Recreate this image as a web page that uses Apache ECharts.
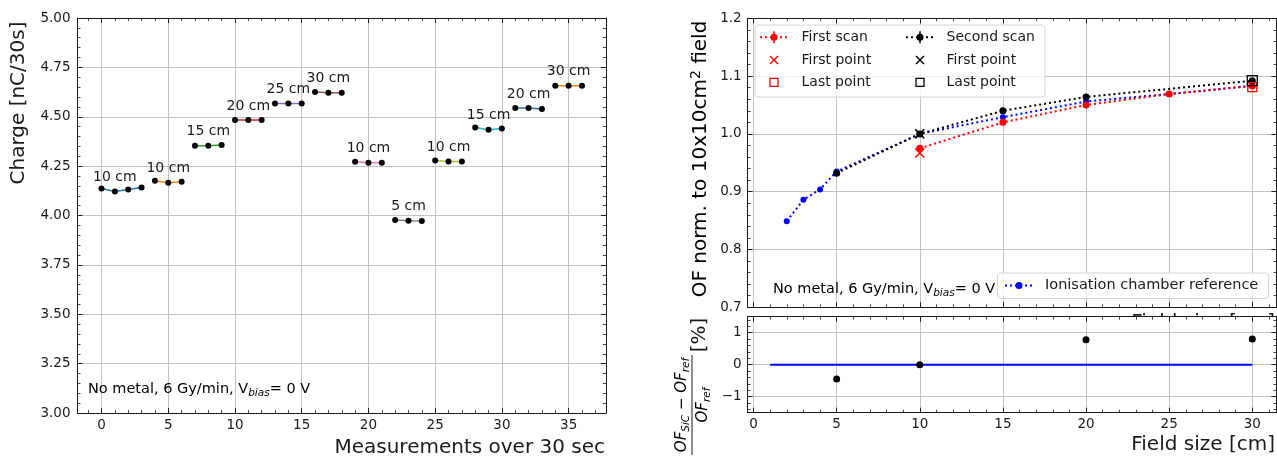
<!DOCTYPE html>
<html>
<head>
<meta charset="utf-8">
<script src="https://cdn.jsdelivr.net/npm/echarts@6/dist/echarts.min.js"></script>
<style>
  html, body { margin: 0; padding: 0; background: #fff; }
  #chart { width: 1277px; height: 458px; }
</style>
</head>
<body>
<div id="chart"></div>
<script>
// ---------- Left panel: charge per 30 s measurement, one run per field size ----------
const fieldLabels = ['10 cm', '10 cm', '15 cm', '20 cm', '25 cm', '30 cm',
                     '10 cm', '5 cm', '10 cm', '15 cm', '20 cm', '30 cm'];
const chargeByField = [
  [4.137, 4.121, 4.132, 4.142],
  [4.176, 4.166, 4.171],
  [4.353, 4.353, 4.357],
  [4.484, 4.484, 4.484],
  [4.567, 4.567, 4.567],
  [4.625, 4.622, 4.621],
  [4.272, 4.267, 4.267],
  [3.977, 3.974, 3.972],
  [4.279, 4.274, 4.274],
  [4.445, 4.434, 4.441],
  [4.544, 4.544, 4.539],
  [4.657, 4.657, 4.657]
];
const runColors = ['#1f77b4', '#ff7f0e', '#2ca02c', '#d62728', '#9467bd', '#8c564b',
                   '#e377c2', '#7f7f7f', '#bcbd22', '#17becf', '#1f77b4', '#ff7f0e'];
const measurementTicks = [0, 5, 10, 15, 20, 25, 30, 35];
const chargeTicks = [3.00, 3.25, 3.50, 3.75, 4.00, 4.25, 4.50, 4.75, 5.00];

// ---------- Right panel: output factors vs field size ----------
const icField = [2, 3, 4, 5, 10, 15, 20, 25, 30];
const icOF    = [0.849, 0.886, 0.904, 0.935, 1.000, 1.029, 1.056, 1.069, 1.083];
const scan1Field = [10, 15, 20, 25, 30];
const scan1OF    = [0.975, 1.020, 1.050, 1.069, 1.083];
const scan1FirstPoint = [10, 0.967];
const scan1LastPoint  = [30, 1.081];
const scan2Field = [5, 10, 15, 20, 30];
const scan2OF    = [0.932, 1.000, 1.040, 1.064, 1.092];
const scan2FirstPoint = [10, 1.000];
const scan2LastPoint  = [30, 1.092];
const devField   = [5, 10, 20, 30];
const devPercent = [-0.45, 0.00, 0.78, 0.80];
const refLineField = [1, 30];
const fieldTicks = [0, 5, 10, 15, 20, 25, 30];
const ofTicks    = [0.7, 0.8, 0.9, 1.0, 1.1, 1.2];
const devTicks   = [-1, 0, 1];

// ---------- styling helpers ----------
const FONT = 'DejaVu Sans';
const INK = '#1a1a1a';
const GRIDLINE = '#c2c2c2';

function minorValues(min, max, step, majors) {
  const out = [];
  const k0 = Math.ceil(min / step - 1e-9), k1 = Math.floor(max / step + 1e-9);
  for (let k = k0; k <= k1; k++) {
    const v = +(k * step).toFixed(6);
    if (!majors.some(m => Math.abs(m - v) < 1e-9)) out.push(v);
  }
  return out;
}

// Adds a full box frame along one dimension (both sides, inward major+minor ticks).
// Returns the index of the primary axis that carries the data.
function addFrame(list, dim, grid, min, max, majors, minorStep, opts) {
  const sides = dim === 'x' ? ['bottom', 'top'] : ['left', 'right'];
  const minors = minorValues(min, max, minorStep, majors);
  const first = list.length;
  sides.forEach((pos, s) => {
    const primary = s === 0;
    list.push({
      type: 'value', gridIndex: grid, position: pos, min: min, max: max,
      axisLine: { show: true, onZero: false, lineStyle: { color: INK, width: 1 } },
      axisTick: { show: true, inside: true, length: 5, customValues: majors,
                  lineStyle: { color: INK, width: 1 } },
      axisLabel: (primary && opts.labels) ? {
        show: true, customValues: majors, formatter: opts.fmt, margin: opts.margin,
        color: '#1a1a1a', fontSize: 13.5, fontFamily: FONT
      } : { show: false },
      splitLine: primary ? { show: true, lineStyle: { color: GRIDLINE, width: 1 } } : { show: false }
    });
    list.push({
      type: 'value', gridIndex: grid, position: pos, min: min, max: max,
      axisLine: { show: false, onZero: false },
      axisTick: { show: true, inside: true, length: 3, customValues: minors,
                  lineStyle: { color: INK, width: 0.8 } },
      axisLabel: { show: false },
      splitLine: { show: false }
    });
  });
  return first;
}

const minus = v => (v < 0 ? '\u2212' + Math.abs(v) : String(v));

const xAxes = [], yAxes = [];
const L = {
  x: addFrame(xAxes, 'x', 0, -1.8, 37.8, measurementTicks, 1, { labels: true, fmt: v => String(v), margin: 5 }),
  y: addFrame(yAxes, 'y', 0, 3, 5, chargeTicks, 0.05, { labels: true, fmt: v => v.toFixed(2), margin: 7 })
};
const T = {
  x: addFrame(xAxes, 'x', 1, -0.35, 31.45, fieldTicks, 1, { labels: false }),
  y: addFrame(yAxes, 'y', 1, 0.7, 1.2, ofTicks, 0.02, { labels: true, fmt: v => v.toFixed(1), margin: 6 })
};
const B = {
  x: addFrame(xAxes, 'x', 2, -0.35, 31.45, fieldTicks, 1, { labels: true, fmt: v => String(v), margin: 5 }),
  y: addFrame(yAxes, 'y', 2, -1.5, 1.5, devTicks, 0.2, { labels: true, fmt: minus, margin: 6 })
};

// ---------- series ----------
const series = [];

// left: one line per run, labelled with its field size
let m = 0;
chargeByField.forEach((vals, i) => {
  series.push({
    type: 'line', xAxisIndex: L.x, yAxisIndex: L.y,
    symbol: 'circle', symbolSize: 6, showSymbol: true,
    itemStyle: { color: '#000' },
    lineStyle: { color: runColors[i], width: 1.5 },
    label: { position: 'top', distance: 4, color: '#1a1a1a', fontSize: 14, fontFamily: FONT },
    data: vals.map((v, j) => ({
      value: [m + j, v],
      label: j === 1 ? { show: true, formatter: fieldLabels[i] } : { show: false }
    })),
    z: 3
  });
  m += vals.length;
});

const dotted = [2, 3];
const zip = (xs, ys) => xs.map((x, i) => [x, ys[i]]);
const crossPath = 'path://M0,0L10,10M10,0L0,10';

series.push(
  {
    type: 'line', name: 'Ionisation chamber reference', xAxisIndex: T.x, yAxisIndex: T.y,
    symbol: 'circle', symbolSize: 6, itemStyle: { color: '#0000ff' },
    lineStyle: { color: '#0000ff', width: 2, type: dotted }, data: zip(icField, icOF), z: 3
  },
  {
    type: 'line', name: 'First scan', xAxisIndex: T.x, yAxisIndex: T.y,
    symbol: 'circle', symbolSize: 7, itemStyle: { color: '#ff0000' },
    lineStyle: { color: '#ff0000', width: 2, type: dotted }, data: zip(scan1Field, scan1OF), z: 4
  },
  {
    type: 'line', name: 'Second scan', xAxisIndex: T.x, yAxisIndex: T.y,
    symbol: 'circle', symbolSize: 7, itemStyle: { color: '#000000' },
    lineStyle: { color: '#000000', width: 2, type: dotted }, data: zip(scan2Field, scan2OF), z: 4
  },
  {
    type: 'scatter', xAxisIndex: T.x, yAxisIndex: T.y, symbol: crossPath, symbolSize: 9,
    itemStyle: { color: 'none', borderColor: '#ff0000', borderWidth: 1.5, opacity: 1 }, data: [scan1FirstPoint], z: 5
  },
  {
    type: 'scatter', xAxisIndex: T.x, yAxisIndex: T.y, symbol: 'rect', symbolSize: 9,
    itemStyle: { color: 'none', borderColor: '#ff0000', borderWidth: 1.3, opacity: 1 }, data: [scan1LastPoint], z: 5
  },
  {
    type: 'scatter', xAxisIndex: T.x, yAxisIndex: T.y, symbol: crossPath, symbolSize: 9,
    itemStyle: { color: 'none', borderColor: '#000000', borderWidth: 1.5, opacity: 1 }, data: [scan2FirstPoint], z: 5
  },
  {
    type: 'scatter', xAxisIndex: T.x, yAxisIndex: T.y, symbol: 'rect', symbolSize: 10,
    itemStyle: { color: 'none', borderColor: '#000000', borderWidth: 1.3, opacity: 1 }, data: [scan2LastPoint], z: 5
  },
  {
    type: 'line', xAxisIndex: B.x, yAxisIndex: B.y, symbol: 'none',
    lineStyle: { color: '#0000ff', width: 2 }, data: refLineField.map(x => [x, 0]), z: 3
  },
  {
    type: 'scatter', xAxisIndex: B.x, yAxisIndex: B.y, symbol: 'circle', symbolSize: 7,
    itemStyle: { color: '#000000', opacity: 1 }, data: zip(devField, devPercent), z: 4
  }
);

// ---------- text, legends and axis titles ----------
const txt = (text, x, y, extra) => ({
  type: 'text', x: x, y: y, z: 20,
  style: Object.assign({ text: text, fontSize: 14, fontFamily: FONT, fill: '#1a1a1a',
                         align: 'left', verticalAlign: 'middle' }, extra || {})
});

const biasRich = {
  n: { fontSize: 14.5, fontFamily: FONT, color: '#1a1a1a' },
  s: { fontSize: 10.5, fontFamily: FONT, fontStyle: 'italic', color: '#1a1a1a', padding: [8, 0, 0, 0] }
};
const biasText = '{n|No metal, 6 Gy/min, V}{s|bias}{n|= 0 V}';

function legendRow(cx, cy, color, kind) {
  const els = [];
  if (kind === 'line') {
    els.push({ type: 'line', z: 21, shape: { x1: cx - 14, y1: cy, x2: cx + 14, y2: cy },
               style: { stroke: color, lineWidth: 2, lineDash: dotted } });
    els.push({ type: 'line', z: 21, shape: { x1: cx, y1: cy - 6, x2: cx, y2: cy + 6 },
               style: { stroke: color, lineWidth: 1.5 } });
    els.push({ type: 'circle', z: 22, shape: { cx: cx, cy: cy, r: 3.5 }, style: { fill: color } });
  } else if (kind === 'cross') {
    els.push({ type: 'polyline', z: 21, shape: { points: [[cx - 4, cy - 4], [cx + 4, cy + 4]] },
               style: { stroke: color, lineWidth: 1.5, fill: null } });
    els.push({ type: 'polyline', z: 21, shape: { points: [[cx + 4, cy - 4], [cx - 4, cy + 4]] },
               style: { stroke: color, lineWidth: 1.5, fill: null } });
  } else {
    els.push({ type: 'rect', z: 21, shape: { x: cx - 4, y: cy - 4, width: 8, height: 8 },
               style: { stroke: color, lineWidth: 1.3, fill: null } });
  }
  return els;
}

const legendRows = [37.3, 60, 82.3];
const legendNames = ['First scan', 'First point', 'Last point'];
const legendKinds = ['line', 'cross', 'square'];
const legendNames2 = ['Second scan', 'First point', 'Last point'];

const graphics = [
  // axis titles
  { type: 'text', x: 19, y: 103, rotation: Math.PI / 2, z: 20,
    style: { text: 'Charge [nC/30s]', fontSize: 20, fontFamily: FONT, fill: '#1a1a1a',
             align: 'center', verticalAlign: 'middle' } },
  txt('Measurements over 30 sec', 605, 448, { fontSize: 20, align: 'right' }),
  { type: 'text', x: 701, y: 159, rotation: Math.PI / 2, z: 20,
    style: { text: '{a|OF norm. to 10x10cm}{p|2}{a| field}', align: 'center', verticalAlign: 'middle',
             rich: { a: { fontSize: 20, fontFamily: FONT, color: '#1a1a1a' },
                     p: { fontSize: 14, fontFamily: FONT, color: '#1a1a1a', padding: [0, 0, 10, 0] } } } },
  { type: 'group', x: 692, y: 405, rotation: Math.PI / 2, z: 20,
    children: [
      { type: 'line', shape: { x1: -50, y1: 0, x2: 50, y2: 0 }, style: { stroke: '#1a1a1a', lineWidth: 1 } },
      { type: 'text', x: 0, y: -10, style: {
          text: '{o|OF}{s|SiC}{m| \u2212 }{o|OF}{s|ref}', align: 'center', verticalAlign: 'middle',
          rich: { o: { fontSize: 15, fontFamily: FONT, fontStyle: 'italic', color: '#1a1a1a' },
                  m: { fontSize: 15, fontFamily: FONT, color: '#1a1a1a' },
                  s: { fontSize: 10.5, fontFamily: FONT, fontStyle: 'italic', color: '#1a1a1a', padding: [8, 0, 0, 0] } } } },
      { type: 'text', x: 0, y: 11, style: {
          text: '{o|OF}{s|ref}', align: 'center', verticalAlign: 'middle',
          rich: { o: { fontSize: 15, fontFamily: FONT, fontStyle: 'italic', color: '#1a1a1a' },
                  s: { fontSize: 10.5, fontFamily: FONT, fontStyle: 'italic', color: '#1a1a1a', padding: [8, 0, 0, 0] } } } },
      { type: 'text', x: 70, y: 8, style: { text: '[%]', fontSize: 20, fontFamily: FONT, fill: '#1a1a1a',
          align: 'center', verticalAlign: 'middle' } }
    ] },
  txt('Field size [cm]', 1275, 445, { fontSize: 20, align: 'right' }),
  // the upper panel's own x title, mostly hidden behind the lower panel
  { type: 'text', x: 1275, y: 323, z: -1,
    style: { text: 'Field size [cm]', fontSize: 20, fontFamily: FONT, fill: '#1a1a1a',
             align: 'right', verticalAlign: 'middle' } },

  // condition notes
  { type: 'text', x: 88, y: 389, z: 20, style: { text: biasText, rich: biasRich, align: 'left', verticalAlign: 'middle' } },
  { type: 'text', x: 773, y: 289, z: 20, style: { text: biasText, rich: biasRich, align: 'left', verticalAlign: 'middle' } },

  // legend: scans
  { type: 'rect', z: 19, shape: { x: 755, y: 25, width: 290, height: 72, r: 3 },
    style: { fill: 'rgba(255,255,255,0.8)', stroke: '#d4d4d4', lineWidth: 1 } },
  // legend: reference
  { type: 'rect', z: 19, shape: { x: 997.5, y: 273, width: 271, height: 25.5, r: 3 },
    style: { fill: 'rgba(255,255,255,0.8)', stroke: '#d4d4d4', lineWidth: 1 } },
  { type: 'line', z: 21, shape: { x1: 1005, y1: 285.5, x2: 1033, y2: 285.5 },
    style: { stroke: '#0000ff', lineWidth: 2, lineDash: dotted } },
  { type: 'circle', z: 22, shape: { cx: 1019, cy: 285.5, r: 3.5 }, style: { fill: '#0000ff' } },
  txt('Ionisation chamber reference', 1045, 285.5, { fontSize: 14.5 })
];

legendRows.forEach((cy, r) => {
  graphics.push(...legendRow(774, cy, '#ff0000', legendKinds[r]));
  graphics.push(txt(legendNames[r], 801.5, cy));
  graphics.push(...legendRow(920, cy, '#000000', legendKinds[r]));
  graphics.push(txt(legendNames2[r], 946.5, cy));
});

const option = {
  animation: false,
  backgroundColor: '#ffffff',
  textStyle: { fontFamily: FONT },
  grid: [
    { left: 77.5, top: 18, width: 528.5, height: 395, containLabel: false },
    { left: 747.7, top: 18.3, width: 528.7, height: 289, containLabel: false },
    { left: 747.7, top: 316.7, width: 528.7, height: 96, containLabel: false,
      show: true, backgroundColor: '#ffffff', borderWidth: 0 }
  ],
  xAxis: xAxes,
  yAxis: yAxes,
  series: series,
  graphic: { elements: graphics }
};

const chart = echarts.init(document.getElementById('chart'), null, { renderer: 'canvas' });
chart.setOption(option);
</script>
</body>
</html>
